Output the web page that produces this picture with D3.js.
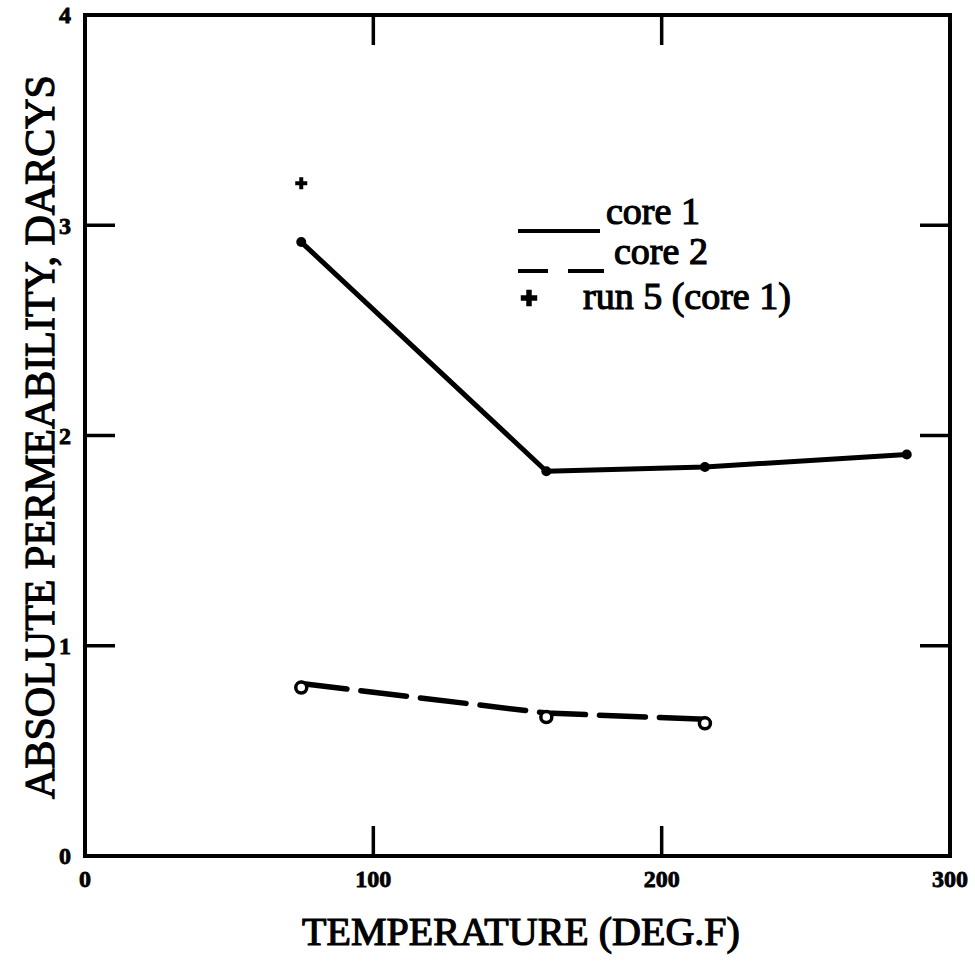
<!DOCTYPE html>
<html>
<head>
<meta charset="utf-8">
<script src="https://cdn.jsdelivr.net/npm/d3@7"></script>
<style>
  html, body { margin: 0; padding: 0; background: #fff; }
  svg { display: block; }
</style>
</head>
<body>
<svg id="chart" width="975" height="962"></svg>
<script>
// Temperature (deg F) vs absolute permeability (darcys)
const core1Temp = [75, 160, 215, 285];
const core1Perm = [2.92, 1.83, 1.85, 1.91];
const core2Temp = [75, 160, 215];
const core2Perm = [0.82, 0.68, 0.65];
const run5Temp = [75];
const run5Perm = [3.2];
const xTicks = [0, 100, 200, 300];
const yTicks = [0, 1, 2, 3, 4];
const legendLabels = ["core 1", "core 2", "run 5 (core 1)"];

const svg = d3.select("#chart");
const x = d3.scaleLinear().domain([0, 300]).range([85, 950]);
const y = d3.scaleLinear().domain([0, 4]).range([856, 15]);

const serif = "'Liberation Serif', 'DejaVu Serif', serif";

// inward ticks on all four sides
const tickLen = 30;
const inner = svg.append("g").attr("stroke", "#000").attr("stroke-width", 3.5);
yTicks.slice(1, -1).forEach(v => {
  inner.append("line").attr("x1", x(0)).attr("x2", x(0) + tickLen).attr("y1", y(v)).attr("y2", y(v));
  inner.append("line").attr("x1", x(300)).attr("x2", x(300) - tickLen).attr("y1", y(v)).attr("y2", y(v));
});
xTicks.slice(1, -1).forEach(v => {
  inner.append("line").attr("x1", x(v)).attr("x2", x(v)).attr("y1", y(0)).attr("y2", y(0) - tickLen);
  inner.append("line").attr("x1", x(v)).attr("x2", x(v)).attr("y1", y(4)).attr("y2", y(4) + tickLen);
});

// frame
svg.append("rect")
  .attr("x", x(0)).attr("y", y(4))
  .attr("width", x(300) - x(0)).attr("height", y(0) - y(4))
  .attr("fill", "none").attr("stroke", "#000").attr("stroke-width", 4);

// tick labels
const tickStyle = sel => sel.attr("font-family", serif).attr("font-weight", "bold")
  .attr("font-size", 24).attr("fill", "#000").attr("stroke", "#000").attr("stroke-width", 0.8);
svg.append("g").selectAll("text").data(yTicks).join("text")
  .attr("x", 65).attr("y", d => y(d)).attr("dy", "0.35em")
  .attr("text-anchor", "middle").call(tickStyle).text(d => d);
svg.append("g").selectAll("text").data(xTicks).join("text")
  .attr("x", d => x(d)).attr("y", 879).attr("dy", "0.35em")
  .attr("text-anchor", "middle").call(tickStyle).text(d => d);

// axis titles
const titleStyle = sel => sel.attr("font-family", serif)
  .attr("fill", "#000").attr("stroke", "#000").attr("stroke-width", 1.2);
svg.append("text")
  .attr("x", 521).attr("y", 945)
  .attr("text-anchor", "middle").call(titleStyle).attr("font-size", 40)
  .text("TEMPERATURE (DEG.F)");
svg.append("text")
  .attr("transform", "translate(54,437) rotate(-90)")
  .attr("text-anchor", "middle").call(titleStyle).attr("font-size", 42)
  .text("ABSOLUTE PERMEABILITY, DARCYS");

const line = d3.line().x(d => x(d[0])).y(d => y(d[1]));
const core1 = core1Temp.map((t, i) => [t, core1Perm[i]]);
const core2 = core2Temp.map((t, i) => [t, core2Perm[i]]);

// core 1: solid line with small filled dots
svg.append("path").datum(core1).attr("d", line)
  .attr("fill", "none").attr("stroke", "#000").attr("stroke-width", 5)
  .attr("stroke-linejoin", "round").attr("stroke-linecap", "round");
svg.append("g").selectAll("circle").data(core1).join("circle")
  .attr("cx", d => x(d[0])).attr("cy", d => y(d[1])).attr("r", 5).attr("fill", "#000");

// core 2: dashed line with open circles
svg.append("path").datum(core2).attr("d", line)
  .attr("fill", "none").attr("stroke", "#000").attr("stroke-width", 5.5)
  .attr("stroke-dasharray", "46 14").attr("stroke-linecap", "round");
svg.append("g").selectAll("circle").data(core2).join("circle")
  .attr("cx", d => x(d[0])).attr("cy", d => y(d[1]) + 4).attr("r", 5.5)
  .attr("fill", "#fff").attr("stroke", "#000").attr("stroke-width", 3.5);

// run 5: plus marker
const plus = d3.symbol().type(d3.symbolCross).size(80);
svg.append("g").selectAll("path").data(run5Temp.map((t, i) => [t, run5Perm[i]])).join("path")
  .attr("d", plus)
  .attr("transform", d => `translate(${x(d[0])},${y(d[1])})`)
  .attr("fill", "#000");

// legend
const lg = svg.append("g");
const legendText = sel => sel.attr("font-family", serif).attr("font-size", 38)
  .attr("fill", "#000").attr("stroke", "#000").attr("stroke-width", 1.2);
lg.append("line").attr("x1", 518).attr("x2", 600).attr("y1", 231).attr("y2", 231)
  .attr("stroke", "#000").attr("stroke-width", 4);
lg.append("text").attr("x", 606).attr("y", 224).call(legendText).text(legendLabels[0]);
lg.append("line").attr("x1", 518).attr("x2", 604).attr("y1", 271).attr("y2", 271)
  .attr("stroke", "#000").attr("stroke-width", 4).attr("stroke-dasharray", "30 20 36");
lg.append("text").attr("x", 614).attr("y", 264).call(legendText).text(legendLabels[1]);
lg.append("path").attr("d", d3.symbol().type(d3.symbolCross).size(150))
  .attr("transform", "translate(529,298)").attr("fill", "#000");
lg.append("text").attr("x", 583).attr("y", 309).call(legendText).text(legendLabels[2]);
</script>
</body>
</html>
